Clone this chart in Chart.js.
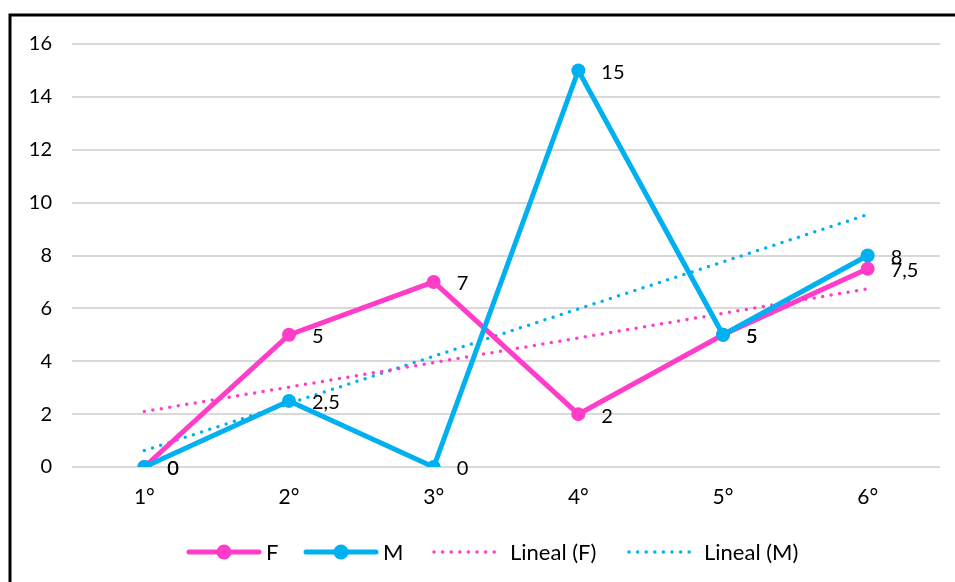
<!DOCTYPE html>
<html>
<head>
<meta charset="utf-8">
<script src="https://cdn.jsdelivr.net/npm/chart.js@4/dist/chart.umd.min.js"></script>
<style>
  html, body { margin: 0; padding: 0; background: #fff; }
  #wrap { width: 955px; height: 582px; position: relative; }
</style>
</head>
<body>
<div id="wrap"><canvas id="c" width="955" height="582"></canvas></div>
<script>
// Grades on the x axis
const categories = ['1°', '2°', '3°', '4°', '5°', '6°'];
// Series values
const valuesF = [0, 5, 7, 2, 5, 7.5];
const valuesM = [0, 2.5, 0, 15, 5, 8];
// Linear trend lines
const trendF = [2.1, 3.02, 3.95, 4.88, 5.81, 6.74];
const trendM = [0.62, 2.4, 4.19, 5.98, 7.76, 9.55];
// Y axis ticks
const yTicks = [0, 2, 4, 6, 8, 10, 12, 14, 16];

const PINK = '#FF3DC8';
const CYAN = '#00B0F0';
const FONT = 'Lato, "Liberation Sans", sans-serif';

const fmt = v => String(v).replace('.', ',');

// Value labels drawn to the right of each point
const valueLabels = {
  id: 'valueLabels',
  afterDatasetsDraw(chart) {
    const ctx = chart.ctx;
    ctx.save();
    ctx.font = '20px ' + FONT;
    ctx.fillStyle = '#000';
    ctx.textAlign = 'left';
    ctx.textBaseline = 'middle';
    [0, 1].forEach(i => {
      const meta = chart.getDatasetMeta(i);
      const data = chart.data.datasets[i].data;
      meta.data.forEach((pt, j) => {
        ctx.fillText(fmt(data[j]), pt.x + 23, pt.y + 2);
      });
    });
    ctx.restore();
  }
};

// Frame and legend
const frameLegend = {
  id: 'frameLegend',
  afterDraw(chart) {
    const ctx = chart.ctx;
    ctx.save();
    ctx.strokeStyle = '#000';
    ctx.lineWidth = 3;
    ctx.strokeRect(10, 15, 1200, 1200);

    const y = 552;
    ctx.lineCap = 'round';
    ctx.font = '22px ' + FONT;
    ctx.fillStyle = '#000';
    ctx.textBaseline = 'middle';
    ctx.textAlign = 'left';

    function solid(x0, x1, color, label, tx) {
      ctx.setLineDash([]);
      ctx.strokeStyle = color;
      ctx.lineWidth = 5;
      ctx.beginPath(); ctx.moveTo(x0, y); ctx.lineTo(x1, y); ctx.stroke();
      ctx.fillStyle = color;
      ctx.beginPath(); ctx.arc((x0 + x1) / 2, y, 7.5, 0, Math.PI * 2); ctx.fill();
      ctx.fillStyle = '#000';
      ctx.fillText(label, tx, y + 1);
    }
    function dotted(x0, x1, color, label, tx) {
      ctx.strokeStyle = color;
      ctx.lineWidth = 3.5;
      ctx.setLineDash([0, 8.6]);
      ctx.beginPath(); ctx.moveTo(x0, y); ctx.lineTo(x1, y); ctx.stroke();
      ctx.setLineDash([]);
      ctx.fillStyle = '#000';
      ctx.fillText(label, tx, y + 1);
    }
    solid(189, 259, PINK, 'F', 266);
    solid(306, 376, CYAN, 'M', 383);
    dotted(434, 502, PINK, 'Lineal (F)', 510);
    dotted(629, 697, CYAN, 'Lineal (M)', 704);
    ctx.restore();
  }
};

new Chart(document.getElementById('c'), {
  type: 'line',
  data: {
    labels: categories,
    datasets: [
      { label: 'F', data: valuesF, borderColor: PINK, backgroundColor: PINK,
        borderWidth: 5, pointRadius: 7, pointHoverRadius: 7, pointBorderWidth: 0,
        tension: 0, order: 2 },
      { label: 'M', data: valuesM, borderColor: CYAN, backgroundColor: CYAN,
        borderWidth: 5, pointRadius: 7, pointHoverRadius: 7, pointBorderWidth: 0,
        tension: 0, order: 1 },
      { label: 'Lineal (F)', data: trendF, borderColor: PINK, borderWidth: 3.5,
        borderDash: [0, 8.6], borderCapStyle: 'round', pointRadius: 0, order: 3 },
      { label: 'Lineal (M)', data: trendM, borderColor: CYAN, borderWidth: 3.5,
        borderDash: [0, 8.6], borderCapStyle: 'round', pointRadius: 0, order: 4 }
    ]
  },
  options: {
    responsive: false,
    animation: false,
    devicePixelRatio: 1,
    layout: { padding: { left: 0, right: 15, top: 44, bottom: 55 } },
    plugins: { legend: { display: false }, tooltip: { enabled: false } },
    scales: {
      x: {
        offset: true,
        grid: { display: false },
        border: { display: false },
        ticks: { color: '#000', font: { family: FONT, size: 21 }, padding: 10 },
        afterFit(s) { s.height = 60; }
      },
      y: {
        min: 0, max: 16,
        afterBuildTicks(s) { s.ticks = yTicks.map(v => ({ value: v })); },
        grid: { color: '#D9D9D9', lineWidth: 2, drawTicks: false },
        border: { display: false },
        ticks: { color: '#000', font: { family: FONT, size: 20 }, padding: 20 },
        afterFit(s) { s.width = 72; }
      }
    }
  },
  plugins: [valueLabels, frameLegend]
});
</script>
</body>
</html>
